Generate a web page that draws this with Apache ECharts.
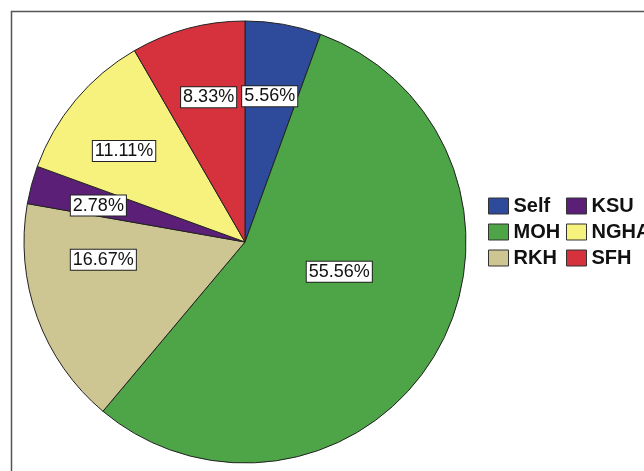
<!DOCTYPE html>
<html>
<head>
<meta charset="utf-8">
<script src="https://cdn.jsdelivr.net/npm/echarts@6/dist/echarts.min.js"></script>
<style>
html,body{margin:0;padding:0;background:#fff;}
#chart{width:644px;height:471px;}
</style>
</head>
<body>
<div id="chart"></div>
<script>
// Data
var categories = ['Self', 'MOH', 'RKH', 'KSU', 'NGHA', 'SFH'];
var counts = [2, 20, 6, 1, 4, 3];
var colors = ['#2e4b9b', '#4ea548', '#cdc592', '#5b1f78', '#f7f17d', '#d5323d'];
var legendCol1 = ['Self', 'MOH', 'RKH'];
var legendCol2 = ['KSU', 'NGHA', 'SFH'];

// Layout (label nudges from default inside position)
var labelNudge = [[5, -34], [-4, -27], [-35, -21], [-37, -7], [-34, -18], [-7, -35]];

var total = counts.reduce(function (a, b) { return a + b; }, 0);

var chart = echarts.init(document.getElementById('chart'), null, {renderer: 'canvas'});

var legendText = {fontFamily: 'Liberation Sans, Arial', fontWeight: 'bold', fontSize: 20, color: '#111', lineHeight: 17};

chart.setOption({
  animation: false,
  backgroundColor: '#fff',
  graphic: [{
    type: 'rect',
    left: 9, top: 9,
    shape: {width: 700, height: 520},
    style: {fill: 'none', stroke: '#555', lineWidth: 1.5},
    silent: true
  }],
  legend: [{
    orient: 'vertical',
    left: 488, top: 196,
    padding: 0,
    itemWidth: 20, itemHeight: 16,
    itemGap: 6,
    icon: 'rect',
    data: legendCol1,
    textStyle: legendText,
    itemStyle: {borderColor: '#333', borderWidth: 1}
  }, {
    orient: 'vertical',
    left: 566, top: 196,
    padding: 0,
    itemWidth: 20, itemHeight: 16,
    itemGap: 6,
    icon: 'rect',
    data: legendCol2,
    textStyle: legendText,
    itemStyle: {borderColor: '#333', borderWidth: 1}
  }],
  series: [{
    type: 'pie',
    center: [245, 242],
    radius: 221,
    startAngle: 90,
    clockwise: true,
    avoidLabelOverlap: false,
    data: categories.map(function (c, i) {
      return {name: c, value: counts[i], itemStyle: {color: colors[i]}};
    }),
    itemStyle: {borderColor: '#222', borderWidth: 1},
    label: {
      show: true,
      position: 'inside',
      formatter: function (p) { return (p.value / total * 100).toFixed(2) + '%'; },
      fontFamily: 'Liberation Sans, Arial',
      fontSize: 18,
      color: '#111',
      backgroundColor: '#fff',
      borderColor: '#222',
      borderWidth: 1,
      padding: [2, 2, 0, 2]
    },
    labelLine: {show: false},
    labelLayout: function (params) {
      var n = labelNudge[params.dataIndex];
      return {dx: n[0], dy: n[1]};
    },
    emphasis: {disabled: true}
  }]
});
</script>
</body>
</html>
